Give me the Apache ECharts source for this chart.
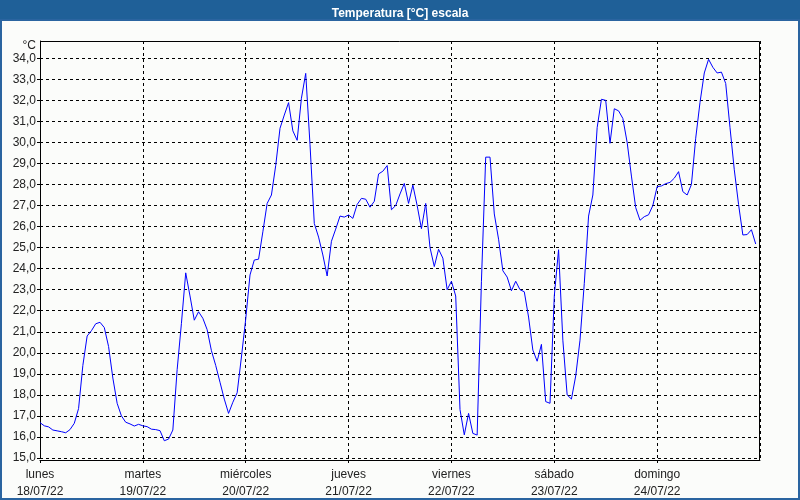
<!DOCTYPE html>
<html>
<head>
<meta charset="utf-8">
<script src="https://cdn.jsdelivr.net/npm/echarts@6/dist/echarts.min.js"></script>
<style>
html,body{margin:0;padding:0;background:#fbfcfa;}
#chart{width:800px;height:500px;}
</style>
</head>
<body>
<div id="chart"></div>
<script>
// Day labels (one per day, midnight ticks)
const dayNames = ['lunes','martes','miércoles','jueves','viernes','sábado','domingo'];
const dayDates = ['18/07/22','19/07/22','20/07/22','21/07/22','22/07/22','23/07/22','24/07/22'];
// Y axis ticks (°C)
const yTicks = [15,16,17,18,19,20,21,22,23,24,25,26,27,28,29,30,31,32,33,34];
// Hourly temperature readings, starting 18/07/22 00:00
const temps = [
  // lunes
  16.68,16.53,16.48,16.33,16.29,16.25,16.20,16.35,16.65,17.35,19.40,20.80,
  21.05,21.38,21.45,21.20,20.30,18.80,17.60,17.00,16.70,16.62,16.52,16.60,
  // martes
  16.53,16.49,16.37,16.35,16.30,15.82,15.90,16.33,19.20,21.40,23.80,22.70,
  21.55,21.95,21.64,21.10,20.10,19.40,18.60,17.80,17.12,17.65,18.10,19.80,
  // miércoles
  21.60,23.70,24.41,24.45,25.75,27.10,27.50,28.90,30.67,31.30,31.89,30.55,
  30.10,32.10,33.28,29.90,26.15,25.50,24.65,23.65,25.30,25.88,26.50,26.45,
  // jueves
  26.55,26.39,27.05,27.34,27.30,26.92,27.20,28.50,28.63,28.90,26.80,27.00,
  27.55,28.05,27.10,27.97,27.00,25.90,27.10,25.00,24.10,24.92,24.50,23.00,
  // viernes
  23.40,22.70,17.30,16.10,17.12,16.17,16.09,23.40,29.30,29.30,26.60,25.40,
  23.90,23.60,22.95,23.40,23.00,22.90,21.70,20.13,19.60,20.40,17.68,17.60,
  // sábado
  22.70,24.90,20.60,18.00,17.80,18.90,20.60,23.30,26.50,27.50,30.70,32.05,
  32.00,29.96,31.60,31.50,31.14,30.00,28.40,26.90,26.30,26.47,26.56,27.00,
  // domingo
  27.90,27.93,28.04,28.10,28.30,28.61,27.66,27.50,28.00,30.20,31.90,33.30,
  33.95,33.57,33.30,33.34,32.80,30.70,28.70,27.05,25.60,25.62,25.85,25.17
];

const seriesData = temps.map((t, i) => [i, t]);

const chart = echarts.init(document.getElementById('chart'), null, {renderer: 'canvas'});
const fontFam = '"Liberation Sans", "DejaVu Sans", sans-serif';
chart.setOption({
  animation: false,
  backgroundColor: '#fbfcfa',
  title: {
    text: 'Temperatura [°C] escala',
    left: 'center',
    top: 3,
    textStyle: {color: '#ffffff', fontSize: 12, fontWeight: 'bold', fontFamily: fontFam}
  },
  graphic: [
    {type: 'rect', shape: {x: 0, y: 0, width: 800, height: 21}, style: {fill: '#1f6098'}, z: -1},
    {type: 'rect', shape: {x: 1, y: 20, width: 798, height: 479}, style: {fill: 'none', stroke: '#2a64a0', lineWidth: 2}, z: -1},
    {type: 'polyline', shape: {points: [[40, 41.5], [759.5, 41.5], [759.5, 460]]}, style: {stroke: '#000', lineWidth: 1, fill: 'none'}, z: 10},
    {type: 'text', right: 764, top: 40, style: {text: '°C', fill: '#222', font: '12px ' + fontFam, textAlign: 'right'}}
  ],
  grid: {left: 40, right: 40, top: 41, bottom: 42, containLabel: false},
  xAxis: {
    type: 'value',
    min: 0,
    max: 168,
    interval: 24,
    offset: 2,
    axisLine: {show: true, onZero: false, lineStyle: {color: '#000', width: 1}},
    axisTick: {show: true, length: 3, lineStyle: {color: '#000'}},
    splitLine: {show: true, lineStyle: {color: '#000', type: [3, 3], width: 1}},
    axisLabel: {
      margin: 6,
      showMaxLabel: false,
      color: '#222',
      fontFamily: fontFam,
      fontSize: 12,
      lineHeight: 17,
      formatter: function (v) {
        const d = Math.round(v / 24);
        if (d < 0 || d >= dayNames.length) return '';
        return dayNames[d] + '\n' + dayDates[d];
      }
    }
  },
  yAxis: {
    type: 'value',
    min: yTicks[0],
    max: 34.82,
    interval: 1,
    axisLine: {show: true, lineStyle: {color: '#000', width: 1}},
    axisTick: {show: true, length: 3, lineStyle: {color: '#000'}},
    splitLine: {show: true, lineStyle: {color: '#000', type: [3, 3], width: 1}},
    axisLabel: {
      margin: 4,
      showMaxLabel: false,
      color: '#222',
      fontFamily: fontFam,
      fontSize: 12,
      formatter: function (v) {
        if (yTicks.indexOf(Math.round(v)) < 0 || Math.abs(v - Math.round(v)) > 1e-6) return '';
        return v.toFixed(1).replace('.', ',');
      }
    }
  },
  series: [{
    type: 'line',
    data: seriesData,
    showSymbol: false,
    symbol: 'none',
    lineStyle: {color: '#0000ff', width: 1},
    z: 5
  }]
});
</script>
</body>
</html>
